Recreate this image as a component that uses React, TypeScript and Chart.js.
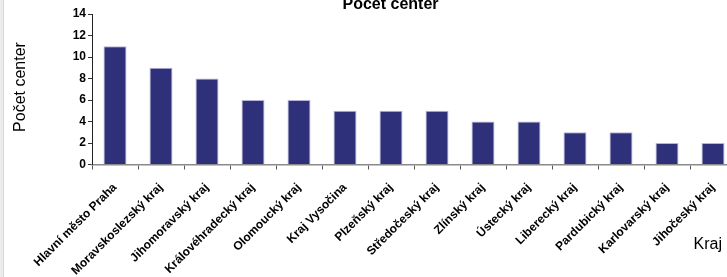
import React, { useEffect, useRef } from "react";
import { Chart, registerables } from "chart.js";

Chart.register(...registerables);

const categories = [
  "Hlavní město Praha",
  "Moravskoslezský kraj",
  "Jihomoravský kraj",
  "Královéhradecký kraj",
  "Olomoucký kraj",
  "Kraj Vysočina",
  "Plzeňský kraj",
  "Středočeský kraj",
  "Zlínský kraj",
  "Ústecký kraj",
  "Liberecký kraj",
  "Pardubický kraj",
  "Karlovarský kraj",
  "Jihočeský kraj",
];
const values = [11, 9, 8, 6, 6, 5, 5, 5, 4, 4, 3, 3, 2, 2];
const chartTitle = "Počet center";
const yTitle = "Počet center";
const xTitle = "Kraj";

const FONT = "'Liberation Sans', Arial, sans-serif";

const decor = {
  id: "decor",
  beforeDraw(chart: any) {
    const ctx = chart.ctx;
    ctx.save();
    ctx.fillStyle = "#ffffff";
    ctx.fillRect(0, 0, chart.width, chart.height);
    ctx.fillStyle = "#ececec";
    ctx.fillRect(0, 0, 3, chart.height);
    ctx.fillStyle = "#d8d8d8";
    ctx.fillRect(3, 0, 1, chart.height);
    ctx.restore();
  },
  afterDraw(chart: any) {
    const ctx = chart.ctx;
    ctx.save();
    ctx.fillStyle = "#000000";
    ctx.textBaseline = "alphabetic";
    ctx.font = `bold 16px ${FONT}`;
    ctx.textAlign = "center";
    ctx.fillText(chartTitle, 390.5, 9);
    ctx.font = `16px ${FONT}`;
    ctx.textAlign = "right";
    ctx.fillText(xTitle, 722, 249);
    ctx.translate(24.5, 87);
    ctx.rotate(-Math.PI / 2);
    ctx.textAlign = "center";
    ctx.fillText(yTitle, 0, 0);
    ctx.restore();
  },
};

export default function App() {
  const ref = useRef<HTMLCanvasElement>(null);
  useEffect(() => {
    if (!ref.current) return;
    const chart = new Chart(ref.current, {
      type: "bar",
      data: {
        labels: categories,
        datasets: [
          {
            data: values,
            backgroundColor: "#2e3179",
            borderColor: "#b4b4dc",
            borderWidth: 1,
            categoryPercentage: 1,
            barPercentage: 0.5,
          },
        ],
      },
      options: {
        animation: false,
        responsive: false,
        maintainAspectRatio: false,
        layout: { padding: { top: 14, left: 0, right: 0, bottom: 0 } },
        plugins: {
          legend: { display: false },
          title: { display: false },
          tooltip: { enabled: false },
        },
        scales: {
          x: {
            offset: true,
            grid: {
              offset: true,
              drawOnChartArea: false,
              drawTicks: true,
              tickLength: 5,
              color: "#555555",
            },
            border: { display: true, color: "#8a8a8a", width: 1.5 },
            ticks: {
              minRotation: 45,
              maxRotation: 45,
              autoSkip: false,
              padding: 11,
              color: "#000000",
              font: { family: FONT, size: 12, weight: "bold" },
            },
            afterFit(scale: any) {
              scale.height = 112.5;
            },
          },
          y: {
            min: 0,
            max: 14,
            grid: {
              drawOnChartArea: false,
              drawTicks: true,
              tickLength: 4,
              color: "#333333",
            },
            border: { display: true, color: "#222222", width: 1 },
            ticks: {
              stepSize: 2,
              padding: 2,
              color: "#000000",
              font: { family: FONT, size: 12, weight: "bold" },
            },
            afterFit(scale: any) {
              scale.width = 92;
            },
          },
        },
      },
      plugins: [decor],
    });
    return () => chart.destroy();
  }, []);
  return (
    <canvas
      ref={ref}
      width={736}
      height={277}
      style={{ position: "fixed", left: 0, top: 0, width: 736, height: 277 }}
    />
  );
}
